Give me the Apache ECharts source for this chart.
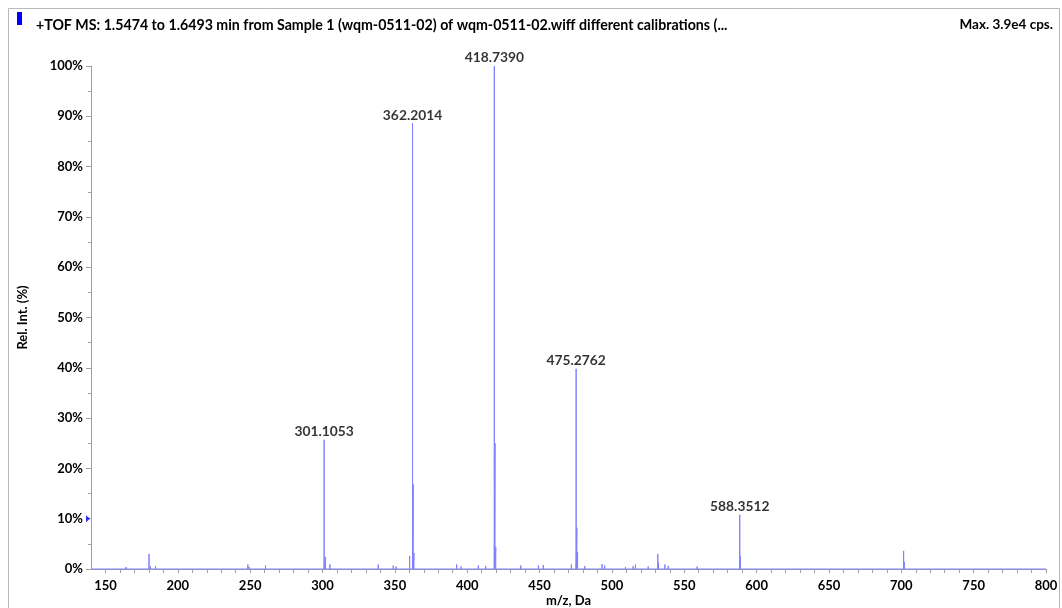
<!DOCTYPE html>
<html>
<head>
<meta charset="utf-8">
<script src="https://cdn.jsdelivr.net/npm/echarts@6/dist/echarts.min.js"></script>
<style>
html,body{margin:0;padding:0;background:#fff;}
#chart{width:1062px;height:608px;}
</style>
</head>
<body>
<div id="chart"></div>
<script>
// ---- data (m/z, relative intensity %) ----
var peakMz = [164.2, 180.1, 181.1, 184.6, 216.0, 226.0, 248.4, 249.4, 260.6, 265.7, 283.0,
  301.1053, 302.1, 305.1, 316.7, 338.5, 348.9, 350.8, 360.2, 362.2014, 362.7, 363.2,
  381.2, 392.7, 395.7, 407.7, 412.8, 418.7390, 419.24, 419.74, 428.4, 437.0, 449.2, 452.6,
  472.0, 475.2762, 475.78, 476.28, 481.2, 493.2, 495.0, 509.4, 514.7, 516.3, 525.1,
  531.7, 532.2, 536.6, 538.9, 558.9, 569.3, 580.4, 588.3512, 588.85, 602.7, 616.5,
  701.6, 702.1];
var peakInt = [0.4, 3.0, 0.5, 0.6, 0.3, 0.3, 0.9, 0.4, 0.7, 0.2, 0.2,
  25.7, 2.4, 0.9, 0.3, 0.9, 0.7, 0.5, 2.6, 88.6, 16.8, 3.2,
  0.3, 0.9, 0.5, 0.7, 0.6, 100, 25.0, 4.3, 0.3, 0.7, 0.7, 0.8,
  0.9, 39.8, 8.2, 3.4, 0.6, 1.0, 0.7, 0.4, 0.6, 0.9, 0.5,
  3.0, 1.3, 0.9, 0.6, 0.5, 0.3, 0.3, 10.8, 2.5, 0.3, 0.3,
  3.6, 1.4];
var labelMz = [301.1053, 362.2014, 418.7390, 475.2762, 588.3512];
var labelInt = [25.7, 88.6, 100, 39.8, 10.8];
var labelText = ['301.1053', '362.2014', '418.7390', '475.2762', '588.3512'];
var xRange = [140, 800];
var xTickLabels = [150, 200, 250, 300, 350, 400, 450, 500, 550, 600, 650, 700, 750, 800];
var markerLevel = [10];
var titleText = '+TOF MS: 1.5474 to 1.6493 min from Sample 1 (wqm-0511-02) of wqm-0511-02.wiff different calibrations (...';
var maxText = 'Max. 3.9e4 cps.';

// ---- build stick-spectrum line ----
var lineData = [[xRange[0], 0]];
for (var i = 0; i < peakMz.length; i++) {
  lineData.push([peakMz[i], 0]);
  lineData.push([peakMz[i], peakInt[i]]);
  lineData.push([peakMz[i], 0]);
}
lineData.push([xRange[1], 0]);

var minorTicks = [];
for (var t = 150; t <= 800; t += 10) minorTicks.push(t);

var labelData = labelMz.map(function (m, k) { return { value: [m, labelInt[k]], name: labelText[k] }; });

var FONT = 'Lato';
var TXT = '#000';
var chart = echarts.init(document.getElementById('chart'));
chart.setOption({
  animation: false,
  backgroundColor: '#ffffff',
  textStyle: { fontFamily: FONT },
  title: [
    { text: titleText, left: 31, top: 13, textStyle: { fontFamily: FONT, fontWeight: 'bold', fontSize: 14.2, color: TXT } },
    { text: maxText, right: 4, top: 13, textStyle: { fontFamily: FONT, fontWeight: 'bold', fontSize: 13.5, color: TXT } }
  ],
  graphic: [
    { type: 'rect', shape: { x: 8.5, y: 8.5, width: 1051, height: 620 }, style: { fill: 'none', stroke: '#b8b8b8', lineWidth: 1 }, silent: true, z: -1 },
    { type: 'rect', shape: { x: 17, y: 12, width: 5, height: 13 }, style: { fill: '#0000ff' }, silent: true }
  ],
  grid: { left: 91, right: 16, top: 66, bottom: 39, containLabel: false, outerBoundsMode: 'none' },
  xAxis: {
    type: 'value', min: xRange[0], max: xRange[1],
    name: 'm/z, Da', nameLocation: 'middle', nameGap: 25, nameMoveOverlap: false,
    nameTextStyle: { fontFamily: FONT, fontWeight: 'bold', fontSize: 13, color: TXT },
    axisLine: { show: true, lineStyle: { color: '#a0a0a0', width: 1 } },
    axisTick: { show: true, customValues: minorTicks, length: 4, lineStyle: { color: '#a0a0a0' } },
    axisLabel: { customValues: xTickLabels, margin: 10, fontFamily: FONT, fontWeight: 'bold', fontSize: 13, color: TXT },
    splitLine: { show: false }
  },
  yAxis: {
    type: 'value', min: 0, max: 100, interval: 10,
    name: 'Rel. Int. (%)', nameLocation: 'middle', nameGap: 62, nameMoveOverlap: false,
    nameTextStyle: { fontFamily: FONT, fontWeight: 'bold', fontSize: 13, color: TXT },
    axisLine: { show: true, lineStyle: { color: '#a0a0a0', width: 1 } },
    axisTick: { show: true, length: 5, lineStyle: { color: '#a0a0a0' } },
    minorTick: { show: true, splitNumber: 2, length: 3, lineStyle: { color: '#a0a0a0' } },
    axisLabel: { formatter: '{value}%', margin: 8, fontFamily: FONT, fontWeight: 'bold', fontSize: 13, color: TXT },
    splitLine: { show: false }
  },
  series: [
    {
      type: 'line', data: lineData, symbol: 'none', clip: false,
      lineStyle: { color: '#8080ff', width: 1 }, z: 3
    },
    {
      type: 'scatter', data: labelData, symbolSize: 0, clip: false,
      label: { show: true, position: 'top', distance: 1, formatter: '{b}', fontFamily: FONT, fontWeight: 'bold', fontSize: 13.8, color: TXT },
      z: 4
    },
    {
      type: 'scatter', data: markerLevel.map(function (v) { return [xRange[0], v]; }), clip: false,
      symbol: 'path://M0,0 L3,3 L0,6 Z', symbolSize: [4, 7], symbolOffset: [-3, 0],
      itemStyle: { color: '#0000ff' }, z: 5
    }
  ]
});
</script>
</body>
</html>
